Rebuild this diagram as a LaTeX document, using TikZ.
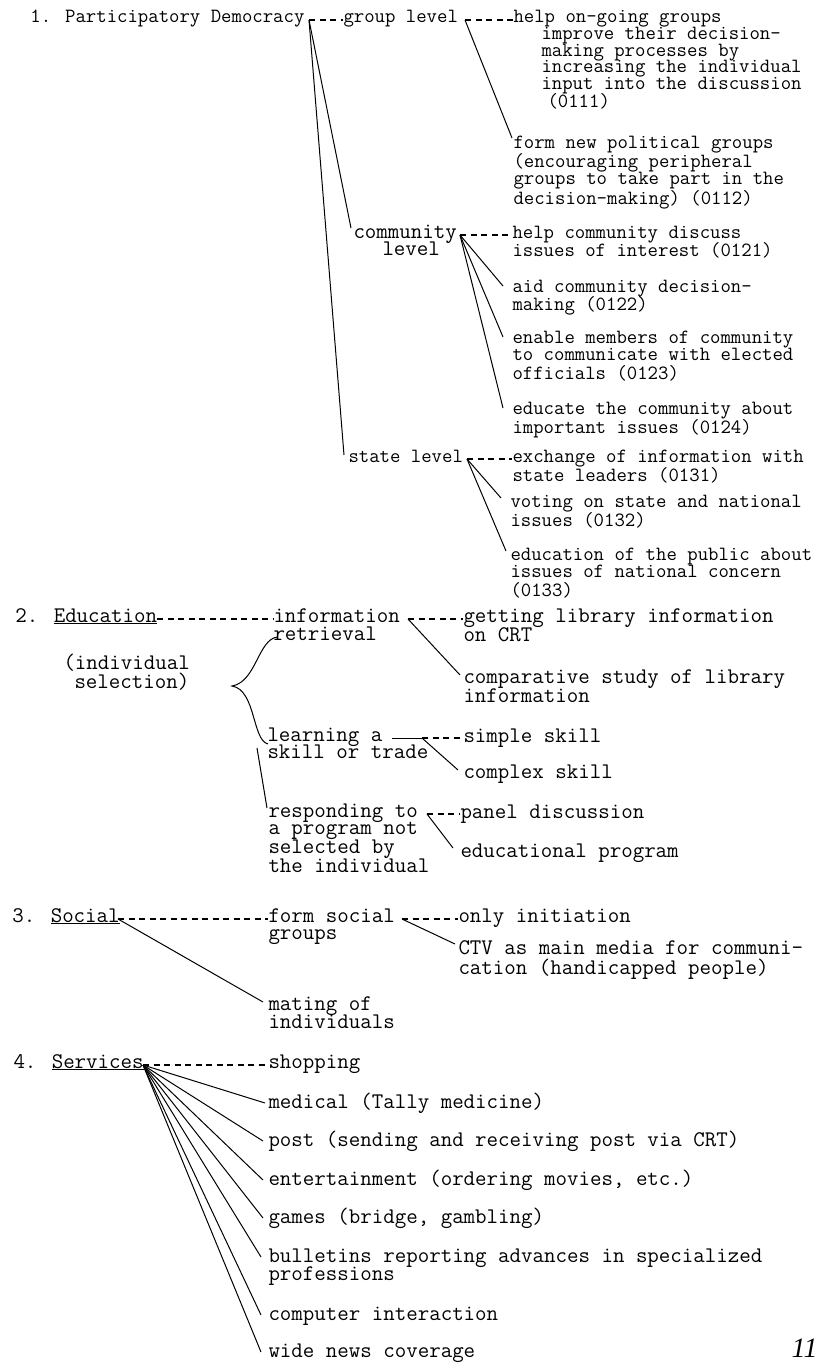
\documentclass[tikz,border=0pt]{standalone}
\usepackage{fontspec}
\newfontfamily\pagenumfont{Liberation Serif}
\newcommand\txtlines[1]{\begin{tabular}[t]{@{}l@{}}#1\end{tabular}}

\begin{document}
\begin{tikzpicture}[x=1pt,y=-1pt,line width=1pt,
  txta/.style={anchor=base west,inner sep=0pt,
    font=\ttfamily\fontsize{20.2}{17.5}\selectfont},
  txtb/.style={anchor=base west,inner sep=0pt,
    font=\ttfamily\fontsize{22.3}{17.5}\selectfont},
  dashline/.style={dash pattern=on 6pt off 4.5pt,line width=1.3pt}]

  \useasboundingbox (0,0) rectangle (822,1365);

  % 1. participatory democracy
  \node[txta] (pd) at (30,23) {1. Participatory Democracy};
  \node[txta] (grp) at (343,23) {group level};
  \node[txta] (g1) at (513,23) {\txtlines{help on-going groups\\[-1pt]
    \hspace*{28pt}improve their decision-\\[-1pt]
    \hspace*{28pt}making processes by\\[-1pt]
    \hspace*{28pt}increasing the individual\\[-1pt]
    \hspace*{28pt}input into the discussion\\[-1pt]
    \hspace*{34pt}(0111)}};
  \node[txta] (g2) at (513,148) {\txtlines{form new political groups\\
    (encouraging peripheral\\
    groups to take part in the\\
    decision-making) (0112)}};
  \node[txtb] (comm) at (353,238) {\txtlines{community\\[-1pt]\hspace*{29pt}level}};
  \node[txta] (c1) at (512,238) {\txtlines{help community discuss\\[-1pt]issues of interest (0121)}};
  \node[txta] (c2) at (512,292) {\txtlines{aid community decision-\\[-1pt]making (0122)}};
  \node[txta] (c3) at (512,343) {\txtlines{enable members of community\\
    to communicate with elected\\officials (0123)}};
  \node[txta] (c4) at (512,414) {\txtlines{educate the community about\\important issues (0124)}};
  \node[txta] (st) at (348,462) {state level};
  \node[txta] (s1) at (512,462) {\txtlines{exchange of information with\\state leaders (0131)}};
  \node[txta] (s2) at (510,507) {\txtlines{voting on state and national\\issues (0132)}};
  \node[txta] (s3) at (510,560) {\txtlines{education of the public about\\
    issues of national concern\\(0133)}};

  \coordinate (jpd) at (309,20);
  \coordinate (jgrp) at (465,20);
  \coordinate (jcomm) at (460,235);
  \coordinate (jst) at (467,459);

  \draw[dashline] (jpd) -- (jpd -| grp.west)
    (jgrp) -- (jgrp -| g1.west)
    (jcomm) -- (jcomm -| c1.west)
    (jst) -- (jst -| s1.west);
  \draw (jpd) edge ([xshift=-2pt,yshift=10pt]comm.base west)
    (jpd) edge ([xshift=-4pt,yshift=7pt]st.base west)
    (jgrp) edge ([xshift=-1pt,yshift=10pt]g2.base west)
    (jcomm) edge ([xshift=-9pt,yshift=6pt]c2.base west)
    (jcomm) edge ([xshift=-9pt,yshift=6pt]c3.base west)
    (jcomm) edge ([xshift=-9pt,yshift=6pt]c4.base west)
    (jst) edge ([xshift=-9pt,yshift=9pt]s2.base west)
    (jst) edge ([xshift=-4pt,yshift=9pt]s3.base west);

  % 2. education
  \node[txtb] (ed) at (15,622) {2. \underline{Education}};
  \node[txtb] (edsel) at (63,669) {\txtlines{(individual\\[-1pt]\hspace*{11pt}selection)}};
  \node[txtb] (info) at (273,622) {\txtlines{information\\retrieval}};
  \node[txtb] (i1) at (463,622) {\txtlines{getting library information\\on CRT}};
  \node[txtb] (i2) at (463,683) {\txtlines{comparative study of library\\information}};
  \node[txtb] (learn) at (267,741) {\txtlines{learning a\\[-1pt]skill or trade}};
  \node[txtb] (simp) at (463,742) {simple skill};
  \node[txtb] (cplx) at (463,778) {complex skill};
  \node[txtb] (resp) at (268,817) {\txtlines{responding to\\a program not\\selected by\\the individual}};
  \node[txtb] (pan) at (460,818) {panel discussion};
  \node[txtb] (edp) at (460,857) {educational program};

  \coordinate (jed) at (157,619);
  \coordinate (jinfo) at (408,619);
  \coordinate (jlearn0) at (392,738);
  \coordinate (jlearn) at (422,738);
  \coordinate (jresp) at (427,814);
  \coordinate (brtop) at (277,637);
  \coordinate (brtip) at (232,686);
  \coordinate (brbot) at (268,744);
  \coordinate (brtail) at (257,748);

  \draw[dashline] (jed) -- (jed -| info.west)
    (jinfo) -- (jinfo -| i1.west)
    (jlearn) -- (jlearn -| simp.west)
    (jresp) -- (jresp -| pan.west);
  \draw (jlearn0) -- (jlearn);
  \draw (jinfo) edge ([xshift=-3pt,yshift=8pt]i2.base west)
    (jlearn) edge ([xshift=-5pt,yshift=8pt]cplx.base west)
    (jresp) edge ([xshift=-7pt,yshift=9pt]edp.base west)
    (brtail) edge ([xshift=-1pt,yshift=9pt]resp.base west);
  % brace for the three kinds of selection
  \draw (brtop) .. controls (258,640) and (256,682) .. (brtip)
    .. controls (256,690) and (252,740) .. (brbot);

  % 3. social
  \node[txtb] (soc) at (12,922) {3. \underline{Social}};
  \node[txtb] (fsoc) at (268,922) {\txtlines{form social\\groups}};
  \node[txtb] (only) at (458,922) {only initiation};
  \node[txtb] (ctv) at (458,954) {\txtlines{CTV as main media for communi-\\cation (handicapped people)}};
  \node[txtb] (mat) at (268,1010) {\txtlines{mating of\\individuals}};

  \coordinate (jsoc) at (118,919);
  \coordinate (jfsoc) at (402,919);

  \draw[dashline] (jsoc) -- (jsoc -| fsoc.west)
    (jfsoc) -- (jfsoc -| only.west);
  \draw (jsoc) edge ([xshift=-5pt,yshift=8pt]mat.base west)
    (jfsoc) edge ([xshift=-3pt,yshift=10pt]ctv.base west);

  % 4. services
  \node[txtb] (srv) at (13,1068) {4. \underline{Services}};
  \node[txtb] (shop) at (268,1068) {shopping};
  \node[txtb] (med) at (268,1108) {medical (Tally medicine)};
  \node[txtb] (post) at (268,1146) {post (sending and receiving post via CRT)};
  \node[txtb] (ent) at (268,1185) {entertainment (ordering movies, etc.)};
  \node[txtb] (game) at (268,1223) {games (bridge, gambling)};
  \node[txtb] (bull) at (268,1262) {\txtlines{bulletins reporting advances in specialized\\[-1pt]professions}};
  \node[txtb] (comp) at (268,1320) {computer interaction};
  \node[txtb] (wide) at (268,1357) {wide news coverage};

  \coordinate (jsrv) at (143,1065);

  \draw[dashline] (jsrv) -- (jsrv -| shop.west);
  \draw (jsrv) edge ([xshift=-3pt,yshift=5pt]med.base west)
    (jsrv) edge ([xshift=-5pt,yshift=5pt]post.base west)
    (jsrv) edge ([xshift=-5pt,yshift=5pt]ent.base west)
    (jsrv) edge ([xshift=-5pt,yshift=5pt]game.base west)
    (jsrv) edge ([xshift=-7pt,yshift=5pt]bull.base west)
    (jsrv) edge ([xshift=-7pt,yshift=5pt]comp.base west)
    (jsrv) edge ([xshift=-7pt,yshift=5pt]wide.base west);

  \node[anchor=base east,inner sep=0pt,
    font=\pagenumfont\fontsize{28}{28}\selectfont\itshape] (pgno) at (818,1357) {11};

\end{tikzpicture}
\end{document}
